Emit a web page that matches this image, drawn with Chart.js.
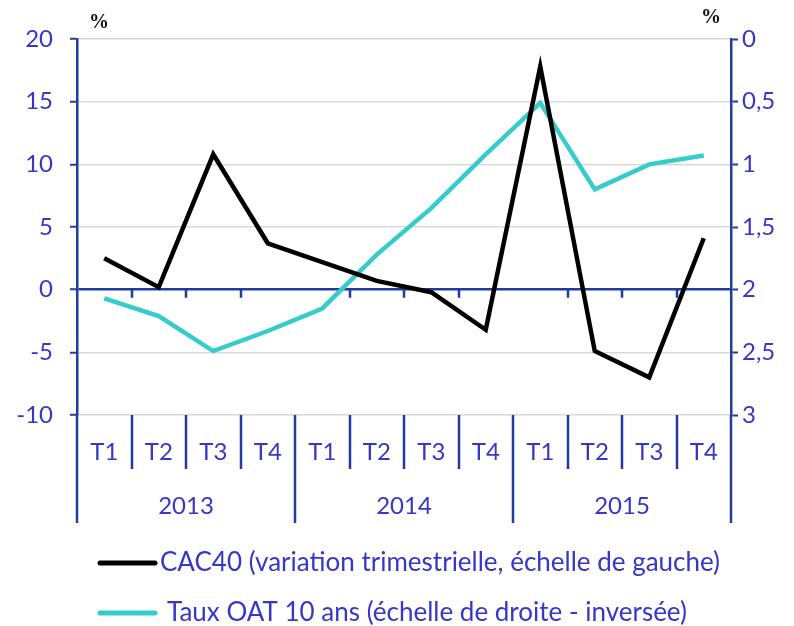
<!DOCTYPE html>
<html>
<head>
<meta charset="utf-8">
<script src="https://cdn.jsdelivr.net/npm/chart.js@4/dist/chart.umd.min.js"></script>
<style>
  html, body { margin: 0; padding: 0; background: #fff; }
  #wrap { width: 794px; height: 626px; }
</style>
</head>
<body>
<div id="wrap"><canvas id="chart" width="794" height="626"></canvas></div>
<script>
// quarters and years
const quarters = ['T1', 'T2', 'T3', 'T4', 'T1', 'T2', 'T3', 'T4', 'T1', 'T2', 'T3', 'T4'];
const years = ['2013', '2014', '2015'];

// CAC40, quarterly change in % (left axis)
const cac40 = [2.5, 0.2, 10.8, 3.7, 2.2, 0.7, -0.2, -3.2, 17.8, -4.9, -7.0, 4.1];
// 10-year OAT rate in % (right axis, reversed)
const oat10 = [2.07, 2.21, 2.49, 2.33, 2.15, 1.72, 1.35, 0.92, 0.51, 1.2, 1.0, 0.93];

const leftTicks = [20, 15, 10, 5, 0, -5, -10];
const rightTicks = [0, 0.5, 1, 1.5, 2, 2.5, 3];

const legendLabels = [
    'CAC40 (variation trimestrielle, échelle de gauche)',
    'Taux OAT 10 ans (échelle de droite - inversée)'
];

const blue = '#1f3c9e';
const textBlue = '#3636c8';
const teal = '#36cccc';
const font = 'Lato';

// draws the quarter / year axis, the small ticks on the zero line, the legend and the % marks
const extras = {
    id: 'extras',
    afterDraw(chart) {
        const c = chart.ctx;
        const area = chart.chartArea;
        const x = chart.scales.x;
        const y = chart.scales.y;
        const w = (area.right - area.left) / quarters.length;
        const zero = y.getPixelForValue(0);
        c.save();
        c.strokeStyle = blue;
        c.lineWidth = 2.5;
        for (let k = 0; k <= quarters.length; k++) {
            const px = Math.round(area.left + k * w);
            c.beginPath();
            if (k % 4 === 0) {
                c.moveTo(px, area.bottom);
                c.lineTo(px, area.bottom + 108);
            } else {
                c.moveTo(px, area.bottom);
                c.lineTo(px, area.bottom + 54);
                c.moveTo(px, zero);
                c.lineTo(px, zero + 8);
            }
            c.stroke();
        }

        c.fillStyle = textBlue;
        c.font = '24px ' + font;
        c.textAlign = 'center';
        c.textBaseline = 'middle';
        quarters.forEach((q, i) => {
            c.fillText(q, x.getPixelForValue(i), area.bottom + 37);
        });
        years.forEach((yr, i) => {
            c.fillText(yr, area.left + (i * 4 + 2) * w, area.bottom + 91);
        });

        // legend
        const rows = [
            { color: '#000000', y: 563, tx: 160 },
            { color: teal, y: 613, tx: 167 }
        ];
        c.lineCap = 'round';
        c.lineWidth = 5;
        rows.forEach((r, i) => {
            c.strokeStyle = r.color;
            c.beginPath();
            c.moveTo(100, r.y);
            c.lineTo(155, r.y);
            c.stroke();
            c.fillStyle = textBlue;
            c.font = '26px ' + font;
            c.textAlign = 'left';
            c.fillText(legendLabels[i], r.tx, r.y);
        });

        c.fillStyle = '#111';
        c.font = 'bold 20px "Liberation Serif"';
        c.textAlign = 'center';
        c.fillText('%', 99, 23);
        c.fillText('%', 711, 18);
        c.restore();
    }
};

new Chart(document.getElementById('chart'), {
    type: 'line',
    data: {
        labels: quarters,
        datasets: [{
            label: legendLabels[0],
            data: cac40,
            yAxisID: 'y',
            borderColor: '#000000',
            borderWidth: 4.5,
            pointRadius: 0,
            tension: 0
        }, {
            label: legendLabels[1],
            data: oat10,
            yAxisID: 'y1',
            borderColor: teal,
            borderWidth: 4.5,
            pointRadius: 0,
            tension: 0
        }]
    },
    options: {
        responsive: false,
        animation: false,
        layout: { padding: { top: 39, bottom: 211, left: 0, right: 0 } },
        plugins: {
            legend: { display: false },
            tooltip: { enabled: false }
        },
        scales: {
            x: {
                type: 'category',
                offset: true,
                display: false
            },
            y: {
                position: 'left',
                min: -10,
                max: 20,
                afterFit: s => { s.width = 77; },
                afterBuildTicks: s => { s.ticks = leftTicks.map(v => ({ value: v })); },
                ticks: {
                    color: textBlue,
                    font: { family: font, size: 24 },
                    padding: 17
                },
                border: { color: blue, width: 2.5 },
                grid: {
                    color: ctx => ctx.tick && ctx.tick.value === 0 ? blue : '#d9d9d9',
                    lineWidth: ctx => ctx.tick && ctx.tick.value === 0 ? 2.5 : 1.5,
                    tickColor: blue,
                    tickWidth: 2,
                    tickLength: 7
                }
            },
            y1: {
                position: 'right',
                reverse: true,
                min: 0,
                max: 3,
                afterFit: s => { s.width = 63; },
                afterBuildTicks: s => { s.ticks = rightTicks.map(v => ({ value: v })); },
                ticks: {
                    color: textBlue,
                    font: { family: font, size: 24 },
                    padding: 4,
                    callback: v => String(v).replace('.', ',')
                },
                border: { color: blue, width: 2.5 },
                grid: {
                    drawOnChartArea: false,
                    tickColor: blue,
                    tickWidth: 2,
                    tickLength: 7
                }
            }
        }
    },
    plugins: [extras]
});
</script>
</body>
</html>
